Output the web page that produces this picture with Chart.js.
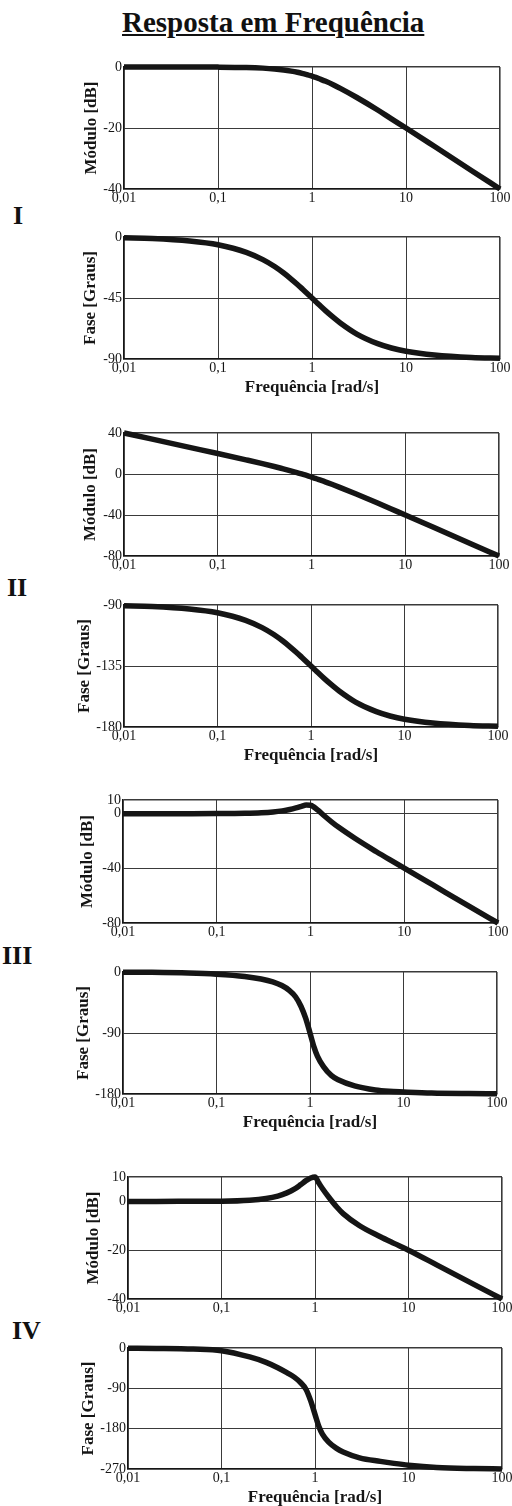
<!DOCTYPE html>
<html>
<head>
<meta charset="utf-8">
<script src="https://cdn.jsdelivr.net/npm/chart.js@4.4.1/dist/chart.umd.min.js"></script>
<style>
  html, body { margin: 0; padding: 0; }
  body {
    width: 512px; height: 1506px; overflow: hidden; position: relative;
    background: #fff; color: #111;
    font-family: "Liberation Serif", "Times New Roman", serif;
  }
  #title {
    position: absolute; left: 122px; top: 8px;
    font-size: 29px; line-height: 28px; font-weight: bold;
    text-decoration: underline; white-space: nowrap;
  }
  .roman {
    position: absolute; font-size: 26px; line-height: 26px; font-weight: bold;
  }
  canvas { position: absolute; left: 0; }
</style>
</head>
<body>
<div id="title">Resposta em Frequência</div>
<div class="roman" style="left:13px;top:203px">I</div>
<div class="roman" style="left:7px;top:575px">II</div>
<div class="roman" style="left:2px;top:943px">III</div>
<div class="roman" style="left:12px;top:1318px">IV</div>

<script>
// ---- data ----
const freq = [0.01, 0.02, 0.05, 0.1, 0.2, 0.3, 0.4, 0.5, 0.6, 0.7, 0.8, 0.9, 1,
              1.1, 1.2, 1.4, 1.7, 2, 3, 5, 7, 10, 20, 50, 100];

const xTickValues = [0.01, 0.1, 1, 10, 100];
const xTickLabels = ["0,01", "0,1", "1", "10", "100"];

// I
const magI   = [0, 0, -0.01, -0.04, -0.17, -0.37, -0.64, -0.97, -1.34, -1.73, -2.15, -2.56, -3.01,
                -3.42, -3.87, -4.7, -5.9, -7.0, -10.0, -14.1, -17.0, -20.0, -26.0, -34.0, -40.0];
const phaseI = [-0.6, -1.1, -2.9, -5.7, -11.3, -16.7, -21.8, -26.6, -31.0, -35.0, -38.7, -42.0, -45.0,
                -47.7, -50.2, -54.5, -59.5, -63.4, -71.6, -78.7, -81.9, -84.3, -87.1, -88.9, -89.4];
// II
const magII   = [40, 34.0, 26.0, 19.96, 13.8, 10.1, 7.3, 5.0, 3.1, 1.4, -0.2, -1.6, -3.0,
                 -4.3, -5.5, -7.6, -10.5, -13.0, -19.5, -28.1, -33.9, -40.0, -52.0, -68.0, -80.0];
const phaseII = [-90.6, -91.1, -92.9, -95.7, -101.3, -106.7, -111.8, -116.6, -121.0, -125.0, -128.7, -132.0, -135.0,
                 -137.7, -140.2, -144.5, -149.5, -153.4, -161.6, -168.7, -171.9, -174.3, -177.1, -178.9, -179.4];
// III
const magIII   = [0, 0, 0.02, 0.08, 0.31, 0.70, 1.27, 2.04, 3.01, 4.17, 5.38, 6.3, 6.2,
                  4.6, 2.57, -1.5, -6.33, -10.0, -18.2, -27.7, -33.7, -39.9, -52.0, -68.0, -80.0];
const phaseIII = [-0.2, -0.5, -1.5, -3.2, -6.5, -10.3, -14.6, -20.0, -27.0, -36.5, -50.5, -68.5, -90,
                  -110, -124, -140, -153, -159, -168, -174, -176, -177, -178.6, -179.4, -179.7];
// IV
const magIV   = [0, 0, 0.05, 0.1, 0.5, 1.2, 2.2, 3.5, 5.0, 6.8, 8.5, 9.6, 10,
                 7.5, 5.3, 1.8, -2.2, -5.0, -10.0, -14.5, -17.2, -20, -26, -34, -40];
const phaseIV = [-0.5, -1, -2.5, -6, -20, -32, -44, -55, -65, -77, -92, -118, -148,
                 -175, -192, -210, -224, -232, -245, -253, -257.5, -261.5, -266.5, -269, -270];

const ticksMagI = [0, -20, -40],    ticksPhaseI = [0, -45, -90];
const ticksMagII = [40, 0, -40, -80], ticksPhaseII = [-90, -135, -180];
const ticksMagIII = [10, 0, -40, -80], ticksPhaseIII = [0, -90, -180];
const ticksMagIV = [10, 0, -20, -40], ticksPhaseIV = [0, -90, -180, -270];

const MOD = "Módulo [dB]", FASE = "Fase [Graus]", FREQ = "Frequência [rad/s]";

// ---- layout of the eight panels ----
const panels = [
  { data: magI,     ticks: ticksMagI,     yTitle: MOD,  top: 67,   bottom: 189,  left: 124, right: 500, titleX: 92, xTitle: false },
  { data: phaseI,   ticks: ticksPhaseI,   yTitle: FASE, top: 237,  bottom: 359,  left: 124, right: 500, titleX: 91, xTitle: true },
  { data: magII,    ticks: ticksMagII,    yTitle: MOD,  top: 433,  bottom: 556,  left: 124, right: 499, titleX: 91, xTitle: false },
  { data: phaseII,  ticks: ticksPhaseII,  yTitle: FASE, top: 605,  bottom: 727,  left: 124, right: 498, titleX: 85, xTitle: true },
  { data: magIII,   ticks: ticksMagIII,   yTitle: MOD,  top: 800,  bottom: 923,  left: 123, right: 498, titleX: 88, xTitle: false },
  { data: phaseIII, ticks: ticksPhaseIII, yTitle: FASE, top: 972,  bottom: 1094, left: 123, right: 497, titleX: 84, xTitle: true },
  { data: magIV,    ticks: ticksMagIV,    yTitle: MOD,  top: 1177, bottom: 1299, left: 128, right: 502, titleX: 94, xTitle: false },
  { data: phaseIV,  ticks: ticksPhaseIV,  yTitle: FASE, top: 1348, bottom: 1469, left: 128, right: 502, titleX: 89, xTitle: true }
];

const SERIF = "'Liberation Serif', 'Times New Roman', serif";
const CANVAS_W = 540;
const PAD_TOP = 15;
const TITLE_SIZE = 17;
const INK = "#151515";
const GRID = "#3a3a3a";

Chart.defaults.font.family = SERIF;

function edgeWidth(ctx, n) {
  return (ctx.index === 0 || ctx.index === n - 1) ? 1.6 : 1;
}

panels.forEach(p => {
  const bottomSpace = p.xTitle ? 39 : 24;
  const h = PAD_TOP + (p.bottom - p.top) + bottomSpace;
  const padLeft = p.titleX - TITLE_SIZE * 1.2 / 2;

  const canvas = document.createElement("canvas");
  canvas.width = CANVAS_W;
  canvas.height = h;
  canvas.style.top = (p.top - PAD_TOP) + "px";
  canvas.style.width = CANVAS_W + "px";
  canvas.style.height = h + "px";
  document.body.appendChild(canvas);

  const yTicks = p.ticks.slice().sort((a, b) => a - b);

  new Chart(canvas.getContext("2d"), {
    type: "line",
    data: {
      datasets: [{
        data: freq.map((f, i) => ({ x: f, y: p.data[i] })),
        borderColor: INK,
        borderWidth: 5.5,
        pointRadius: 0,
        fill: false,
        cubicInterpolationMode: "monotone",
        clip: 4
      }]
    },
    options: {
      responsive: false,
      animation: false,
      devicePixelRatio: 1,
      layout: { padding: { top: PAD_TOP, left: padLeft, right: CANVAS_W - p.right, bottom: 0 } },
      plugins: { legend: { display: false }, tooltip: { enabled: false } },
      scales: {
        x: {
          type: "logarithmic",
          min: 0.01, max: 100,
          afterBuildTicks: s => { s.ticks = xTickValues.map(v => ({ value: v })); },
          afterFit: s => { s.height = bottomSpace; },
          grid: { color: GRID, lineWidth: ctx => edgeWidth(ctx, xTickValues.length), drawTicks: false },
          border: { color: INK, width: 1.6 },
          ticks: {
            callback: (v, i) => xTickLabels[i],
            autoSkip: false, maxRotation: 0, padding: 1,
            color: INK, font: { family: SERIF, size: 14 }
          },
          title: {
            display: p.xTitle, text: FREQ, color: INK, padding: 0,
            font: { family: SERIF, size: TITLE_SIZE, weight: "bold" }
          }
        },
        y: {
          min: yTicks[0], max: yTicks[yTicks.length - 1],
          afterBuildTicks: s => { s.ticks = yTicks.map(v => ({ value: v })); },
          afterFit: s => { s.width = p.left - padLeft; },
          grid: { color: GRID, lineWidth: ctx => edgeWidth(ctx, yTicks.length), drawTicks: false },
          border: { color: INK, width: 1.6 },
          ticks: { autoSkip: false, padding: 2, color: INK, font: { family: SERIF, size: 14 } },
          title: {
            display: true, text: p.yTitle, color: INK, padding: 0,
            font: { family: SERIF, size: TITLE_SIZE, weight: "bold" }
          }
        }
      }
    }
  });
});
</script>
</body>
</html>
